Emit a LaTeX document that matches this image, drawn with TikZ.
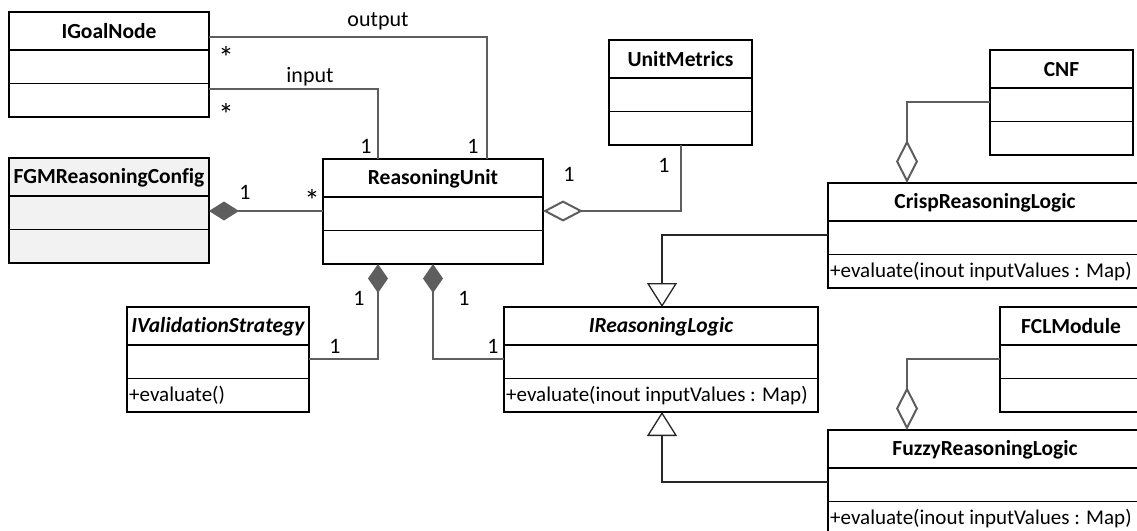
\documentclass[tikz,border=0pt]{standalone}
\usepackage{fontspec}
\setmainfont{Carlito}[Ligatures=NoCommon]
\usetikzlibrary{arrows.meta,calc}

\definecolor{linegray}{HTML}{5E5E5E}
\definecolor{cfgfill}{HTML}{F2F2F2}

\tikzset{
  umlbox/.style={draw=black, line width=1.5pt, inner sep=0pt, outer sep=0pt,
                 anchor=north west, minimum height=105pt},
  umlrule/.style={draw=black, line width=1.5pt},
  umltitle/.style={font=\bfseries\fontsize{21.5}{24}\selectfont, inner sep=0pt},
  umlops/.style={font=\fontsize{21}{24}\selectfont, inner sep=0pt, anchor=west},
  assoc/.style={draw=linegray, line width=2pt},
  gen/.style={draw=black!85, line width=1.3pt},
  mult/.style={font=\fontsize{22}{24}\selectfont, inner sep=0pt, anchor=base},
  star/.style={font=\fontsize{31}{34}\selectfont, inner sep=0pt, anchor=base},
  compo/.style={-{Diamond[length=30pt, width=19pt, fill=linegray]}},
  aggr/.style={-{Diamond[open, length=40pt, width=21pt, fill=white]}},
  realize/.style={-{Triangle[open, length=24pt, width=30pt, fill=white]}},
}

% \umlclass[fill]{name}{left}{top}{right}{title}
\newcommand\umlclass[6][white]{%
  \node[umlbox, fill=#1, minimum width={(#5-#3)*1pt}] (#2) at (#3,#4) {};
  \draw[umlrule] ($(#2.north west)+(0,38)$) -- ($(#2.north east)+(0,38)$);
  \draw[umlrule] ($(#2.north west)+(0,71.5)$) -- ($(#2.north east)+(0,71.5)$);
  \node[umltitle] (#2-title) at ($(#2.north)+(0,19.5)$) {#6};
}
% \umlops{name}{operation text}
\newcommand\umlops[2]{%
  \node[umlops] (#1-ops) at ($(#1.north west)+(2,88.5)$) {#2};
}

\begin{document}
\begin{tikzpicture}[x=1pt, y=-1pt]
  \clip (0,0) rectangle (1137,530);
  \fill[white] (0,0) rectangle (1137,530);

  % classes
  \umlclass{goal}{9}{12}{209}{IGoalNode}
  \umlclass[cfgfill]{fgm}{9}{158}{209}{FGMReasoningConfig}
  \umlclass{ru}{323}{159}{543}{ReasoningUnit}
  \umlclass{um}{609}{40}{752}{UnitMetrics}
  \umlclass{cnf}{990}{50}{1133}{CNF}
  \umlclass{crisp}{828}{183}{1142}{CrispReasoningLogic}
  \umlops{crisp}{+evaluate(inout inputValues : Map)}
  \umlclass{val}{127}{307}{309}{\itshape IValidationStrategy}
  \umlops{val}{+evaluate()}
  \umlclass{irl}{504}{307}{818}{\itshape IReasoningLogic}
  \umlops{irl}{+evaluate(inout inputValues : Map)}
  \umlclass{fcl}{1000}{307}{1142}{FCLModule}
  \umlclass{fuzzy}{828}{430}{1142}{FuzzyReasoningLogic}
  \umlops{fuzzy}{+evaluate(inout inputValues : Map)}

  % associations between goal nodes and the reasoning unit
  \draw[assoc] ($(goal.north east)+(0,25)$) -| ($(ru.north west)+(164,0)$);
  \draw[assoc] ($(goal.north east)+(0,77)$) -| ($(ru.north west)+(55,0)$);

  % compositions and aggregations
  \draw[assoc, compo] ($(ru.north west)+(0,52)$) -- ($(fgm.north east)+(0,53)$);
  \draw[assoc, aggr] ($(um.south west)+(72,0)$) |- ($(ru.north east)+(0,52)$);
  \draw[assoc, -{Diamond[length=29pt, width=20pt, fill=linegray]}]
    ($(val.north east)+(0,52)$) -| ($(ru.south west)+(55,0)$);
  \draw[assoc, -{Diamond[length=29pt, width=20pt, fill=linegray]}]
    ($(irl.north west)+(0,52)$) -| ($(ru.south west)+(110,0)$);
  \draw[assoc, -{Diamond[open, length=43pt, width=22pt, fill=white]}]
    ($(cnf.north west)+(0,52)$) -| ($(crisp.north west)+(79,0)$);
  \draw[assoc, -{Diamond[open, length=43pt, width=22pt, fill=white]}]
    ($(fcl.north west)+(0,52)$) -| ($(fuzzy.north west)+(79,0)$);

  % generalizations
  \draw[gen, realize] ($(crisp.north west)+(0,52)$) -| ($(irl.north west)+(158,0)$);
  \draw[gen, realize] ($(fuzzy.north west)+(0,52)$) -| ($(irl.south west)+(158,0)$);

  % role names and multiplicities
  \node[mult] (lbl-output) at (378,26) {output};
  \node[mult] (lbl-input) at (310,82) {input};
  \node[star] (m-out-goal) at (226,68) {*};
  \node[star] (m-in-goal) at (226,125) {*};
  \node[mult] (m-in-ru) at (366,153) {1};
  \node[mult] (m-out-ru) at (473,153) {1};
  \node[mult] (m-fgm) at (245,199) {1};
  \node[star] (m-fgm-ru) at (312,211) {*};
  \node[mult] (m-ru-um) at (569,181) {1};
  \node[mult] (m-um) at (664,172) {1};
  \node[mult] (m-ru-val) at (359,305) {1};
  \node[mult] (m-val) at (335,353) {1};
  \node[mult] (m-ru-irl) at (464,305) {1};
  \node[mult] (m-irl) at (493,353) {1};
\end{tikzpicture}
\end{document}
